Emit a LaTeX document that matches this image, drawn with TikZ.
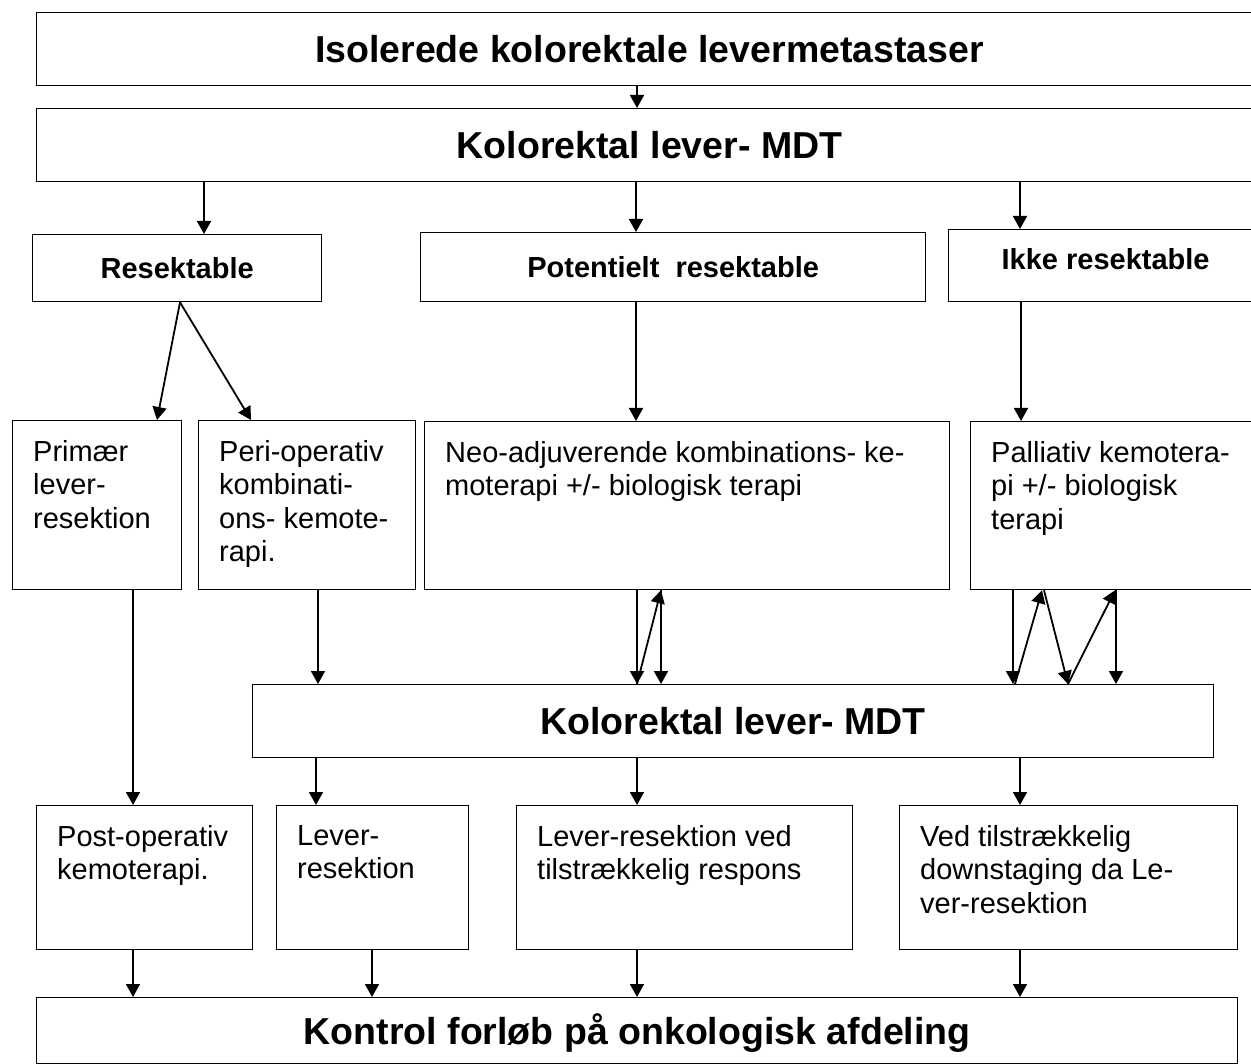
\documentclass[tikz,border=0pt]{standalone}
\usepackage{fontspec}
\setmainfont{Liberation Sans}
\usetikzlibrary{arrows.meta}
\newcommand{\txtsize}{\fontsize{29}{33.5}\selectfont}
\tikzstyle{bigBox}=[rectangle,draw,line width=1.3pt,anchor=north west,inner sep=0pt,font=\fontsize{37.5}{45}\selectfont\bfseries,text height=26.9pt,text depth=0pt]
\tikzstyle{midBox}=[bigBox,font=\fontsize{29}{34}\selectfont\bfseries,text height=20.8pt]
\tikzstyle{arr}=[-{Triangle[length=13pt,width=14pt]},line width=1.8pt]
\tikzset{
  txtBox/.style n args={4}{%
    rectangle,
    draw,
    line width=1.3pt,
    anchor=north west,
    inner sep=0pt,
    minimum width=#1,
    minimum height=#2,
    append after command={\pgfextra{\let\mainnode=\tikzlastnode}
      node[anchor=north west, align=left, inner sep=0pt, font=\txtsize] (#4 Text) at ([xshift=21pt,yshift=-20pt]\mainnode.north west) {#3}%
    },
  }
}

\begin{document}
\begin{tikzpicture}[x=1pt,y=-1pt]
    \useasboundingbox (0,0) rectangle (1251,1064);

    \node [bigBox, minimum width=1226pt, minimum height=73pt] (Top) at (36,12) {Isolerede kolorektale levermetastaser};
    \node [bigBox, minimum width=1226pt, minimum height=73pt] (MDTa) at (36,108) {Kolorektal lever- MDT};

    \node [midBox, minimum width=289pt, minimum height=67pt] (Res) at (32,234) {Resektable};
    \node [midBox, minimum width=505pt, minimum height=69pt] (Pot) at (420,232) {Potentielt\ \ resektable};
    \node [midBox, minimum width=314pt, minimum height=72pt, text depth=14pt] (Ikke) at (948,229) {Ikke resektable};

    \node [txtBox={169pt}{169pt}{Primær\\lever-\\resektion}{Prim}] (Prim) at (12,420) {};
    \node [txtBox={217pt}{169pt}{Peri-operativ\\kombinati-\\ons- kemote-\\rapi.}{Peri}] (Peri) at (198,420) {};
    \node [txtBox={525pt}{168pt}{Neo-adjuverende kombinations- ke-\\moterapi +/- biologisk terapi}{Neo}] (Neo) at (424,421) {};
    \node [txtBox={292pt}{168pt}{Palliativ kemotera-\\pi +/- biologisk\\terapi}{Pall}] (Pall) at (970,421) {};

    \node [bigBox, minimum width=961pt, minimum height=73pt] (MDTb) at (252,684) {Kolorektal lever- MDT};

    \node [txtBox={216pt}{144pt}{Post-operativ\\kemoterapi.}{Post}] (Post) at (36,805) {};
    \node [txtBox={192pt}{144pt}{Lever-\\resektion}{Lever}] (Lever) at (276,805) {};
    \node [txtBox={336pt}{144pt}{Lever-resektion ved\\tilstrækkelig respons}{LevRes}] (LevRes) at (516,805) {};
    \node [txtBox={338pt}{144pt}{Ved tilstrækkelig\\downstaging da Le-\\ver-resektion}{Ved}] (Ved) at (899,805) {};

    \node [bigBox, minimum width=1201pt, minimum height=66pt] (Kontrol) at (36,997) {Kontrol forløb på onkologisk afdeling};

    \draw [arr] (637,0 |- Top.south) -- (637,0 |- MDTa.north);
    \draw [arr] (204,0 |- MDTa.south) -- (204,0 |- Res.north);
    \draw [arr] (636,0 |- MDTa.south) -- (636,0 |- Pot.north);
    \draw [arr] (1020,0 |- MDTa.south) -- (1020,0 |- Ikke.north);

    \draw [arr] (180,0 |- Res.south) -- (157,0 |- Prim.north);
    \draw [arr] (180,0 |- Res.south) -- (251,0 |- Peri.north);
    \draw [arr] (636,0 |- Pot.south) -- (636,0 |- Neo.north);
    \draw [arr] (1021,0 |- Ikke.south) -- (1021,0 |- Pall.north);

    \draw [arr] (133,0 |- Prim.south) -- (133,0 |- Post.north);
    \draw [arr] (318,0 |- Peri.south) -- (318,0 |- MDTb.north);
    \draw [arr] (637,0 |- Neo.south) -- (637,0 |- MDTb.north);
    \draw [arr] (637,0 |- MDTb.north) -- (661,0 |- Neo.south);
    \draw [arr] (661,0 |- Neo.south) -- (661,0 |- MDTb.north);
    \draw [arr] (1013,0 |- Pall.south) -- (1013,0 |- MDTb.north);
    \draw [arr] (1015,0 |- MDTb.north) -- (1042,0 |- Pall.south);
    \draw [arr] (1044,0 |- Pall.south) -- (1068,0 |- MDTb.north);
    \draw [arr] (1068,0 |- MDTb.north) -- (1115,0 |- Pall.south);
    \draw [arr] (1116,0 |- Pall.south) -- (1116,0 |- MDTb.north);

    \draw [arr] (316,0 |- MDTb.south) -- (316,0 |- Lever.north);
    \draw [arr] (637,0 |- MDTb.south) -- (637,0 |- LevRes.north);
    \draw [arr] (1020,0 |- MDTb.south) -- (1020,0 |- Ved.north);

    \draw [arr] (133,0 |- Post.south) -- (133,0 |- Kontrol.north);
    \draw [arr] (372,0 |- Lever.south) -- (372,0 |- Kontrol.north);
    \draw [arr] (637,0 |- LevRes.south) -- (637,0 |- Kontrol.north);
    \draw [arr] (1020,0 |- Ved.south) -- (1020,0 |- Kontrol.north);
\end{tikzpicture}
\end{document}
